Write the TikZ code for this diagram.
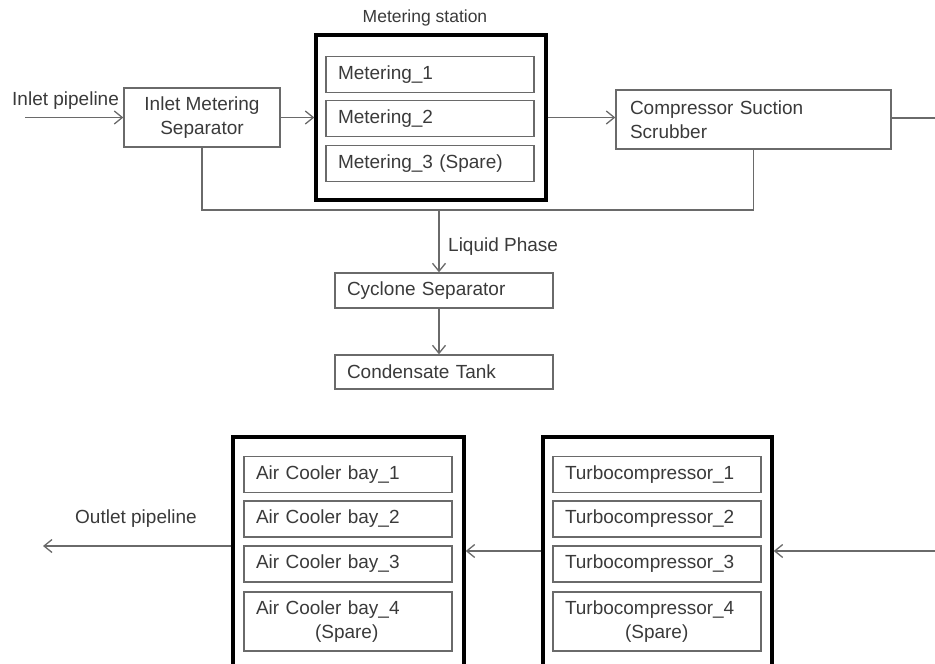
\documentclass[tikz,border=0pt]{standalone}
\usepackage{fontspec}
\setmainfont{Liberation Sans}
\usetikzlibrary{arrows.meta}
\definecolor{linegray}{HTML}{6A6A6A}
\definecolor{textgray}{HTML}{3A3A3A}
\begin{document}
\begin{tikzpicture}[x=1pt,y=-1pt,
  font=\fontsize{19}{24}\selectfont, text=textgray,
  pipe/.style={draw=linegray, line width=1.4pt},
  flow/.style={pipe, -{Straight Barb[length=8pt,width=13pt,line width=1.3pt]}},
  unitbox/.style={draw=linegray, line width=1.4pt, inner xsep=12pt, inner ysep=0pt,
                  align=left, text width=184pt, minimum height=36pt},
  groupbox/.style={draw=black, line width=3.4pt, inner sep=0pt},
  lbl/.style={inner sep=0pt, anchor=west}]
\useasboundingbox (0,0) rectangle (935,664);
\clip (0,0) rectangle (935,664);

% ---- gas inlet and metering ----
\node[draw=linegray, line width=1.4pt, minimum width=156pt, minimum height=59pt,
      inner sep=0pt, align=center] (ims) at (202,117.5) {Inlet Metering\\Separator};
\coordinate (inL) at (25,117.5);
\node[lbl] (inlbl) at (12,101) {Inlet pipeline};

\node[groupbox, minimum width=230pt, minimum height=165pt] (ms) at (431,117.5) {};
\node[font=\fontsize{17.5}{20}\selectfont, inner sep=0pt] (mslbl) at (425,18) {Metering station};
\node[unitbox] (m1) at (430,74.5) {Metering\_1};
\node[unitbox] (m2) at (430,118.5) {Metering\_2};
\node[unitbox] (m3) at (430,163.5) {Metering\_3 (Spare)};

\node[draw=linegray, line width=1.4pt, inner xsep=14pt, inner ysep=0pt, text width=247pt,
      minimum height=59pt, align=left] (css) at (753.5,119.5) {Compressor Suction\\Scrubber};
\coordinate (exitR) at (935,118);

\draw[flow] (inL) -- (ims.west);
\draw[flow] (ims.east) -- (ms.west);
\draw[flow] (ms.east) -- (ms.east -| css.west);
\draw[pipe] (css.east |- exitR) -- (exitR);

% ---- liquid drain ----
\coordinate (drainrow) at (0,210);
\coordinate (tap) at (439,210);
\draw[pipe] (ims.south) |- (css.south |- drainrow) -- (css.south);

\node[draw=linegray, line width=1.4pt, inner xsep=12pt, inner ysep=0pt, text width=194pt,
      minimum height=35pt, align=left] (cyc) at (444,290.5) {Cyclone Separator};
\node[draw=linegray, line width=1.4pt, inner xsep=12pt, inner ysep=0pt, text width=194pt,
      minimum height=34pt, align=left] (cond) at (444,372) {Condensate Tank};
\node[lbl] (liq) at (448,247) {Liquid Phase};

\draw[flow] (tap) -- (tap |- cyc.north);
\draw[flow] (tap |- cyc.south) -- (tap |- cond.north);

% ---- compression and cooling ----
\node[groupbox, minimum width=229pt, minimum height=260pt] (tc) at (657.5,567) {};
\node[unitbox] (t1) at (657,474.5) {Turbocompressor\_1};
\node[unitbox] (t2) at (657,519) {Turbocompressor\_2};
\node[unitbox] (t3) at (657,564) {Turbocompressor\_3};
\node[unitbox, minimum height=59pt] (t4) at (657,621.5) {Turbocompressor\_4\\\hspace*{60pt}(Spare)};

\node[groupbox, minimum width=231pt, minimum height=260pt] (ac) at (348.5,567) {};
\node[unitbox] (a1) at (348,474.5) {Air Cooler bay\_1};
\node[unitbox] (a2) at (348,519) {Air Cooler bay\_2};
\node[unitbox] (a3) at (348,564) {Air Cooler bay\_3};
\node[unitbox, minimum height=59pt] (a4) at (348,621.5) {Air Cooler bay\_4\\\hspace*{59pt}(Spare)};

\coordinate (inR) at (935,551);
\coordinate (outL) at (43,546);
\node[lbl] (outlbl) at (75,519) {Outlet pipeline};

\draw[flow] (inR) -- (inR -| tc.east);
\draw[flow] (tc.west |- inR) -- (ac.east |- inR);
\draw[flow] (ac.west |- outL) -- (outL);
\end{tikzpicture}
\end{document}
